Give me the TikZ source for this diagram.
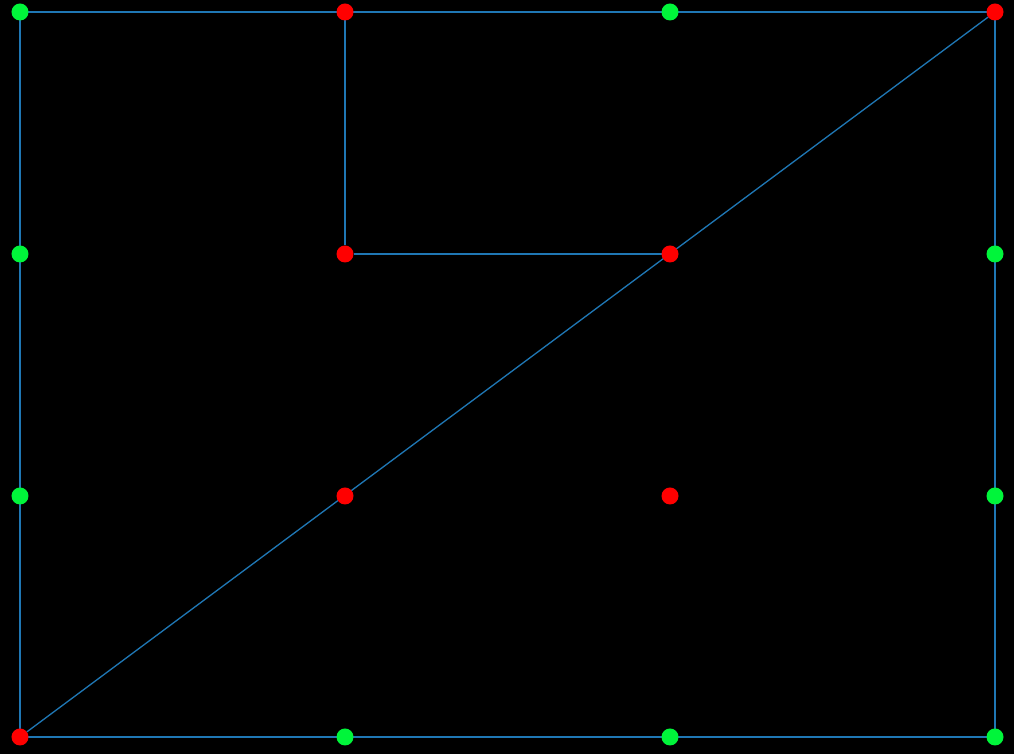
\documentclass[tikz,border=0pt]{standalone}
\usetikzlibrary{backgrounds}
\definecolor{edgeblue}{HTML}{1F77B4}
\definecolor{dotgreen}{HTML}{00F53A}
\definecolor{dotred}{HTML}{FF0000}
\tikzset{
  dot/.style={circle, inner sep=0pt, outer sep=0pt, minimum size=3.4mm},
  gdot/.style={dot, fill=dotgreen},
  rdot/.style={dot, fill=dotred},
  edge/.style={draw=edgeblue, line width=0.75pt}
}

\begin{document}
\begin{tikzpicture}
  \useasboundingbox (0,0) rectangle (20.28,15.08);

  % top row
  \node[gdot] (a1) at (0.4,14.84) {};
  \node[rdot] (a2) at (6.9,14.84) {};
  \node[gdot] (a3) at (13.4,14.84) {};
  \node[rdot] (a4) at (19.9,14.84) {};
  % second row
  \node[gdot] (b1) at (0.4,10.0) {};
  \node[rdot] (b2) at (6.9,10.0) {};
  \node[rdot] (b3) at (13.4,10.0) {};
  \node[gdot] (b4) at (19.9,10.0) {};
  % third row
  \node[gdot] (c1) at (0.4,5.16) {};
  \node[rdot] (c2) at (6.9,5.16) {};
  \node[rdot] (c3) at (13.4,5.16) {};
  \node[gdot] (c4) at (19.9,5.16) {};
  % bottom row
  \node[rdot] (d1) at (0.4,0.34) {};
  \node[gdot] (d2) at (6.9,0.34) {};
  \node[gdot] (d3) at (13.4,0.34) {};
  \node[gdot] (d4) at (19.9,0.34) {};

  \begin{pgfonlayer}{background}
    \fill[black] (0,0) rectangle (20.28,15.08);
    \draw[edge] (a1.center) -- (a2.center) -- (a3.center) -- (a4.center)
      -- (b4.center) -- (c4.center) -- (d4.center)
      -- (d3.center) -- (d2.center) -- (d1.center)
      -- (c1.center) -- (b1.center) -- cycle;
    \draw[edge] (a2) -- (b2);
    \draw[edge] (b2) -- (b3);
    \draw[edge] (d1) -- (a4);
  \end{pgfonlayer}
\end{tikzpicture}
\end{document}
